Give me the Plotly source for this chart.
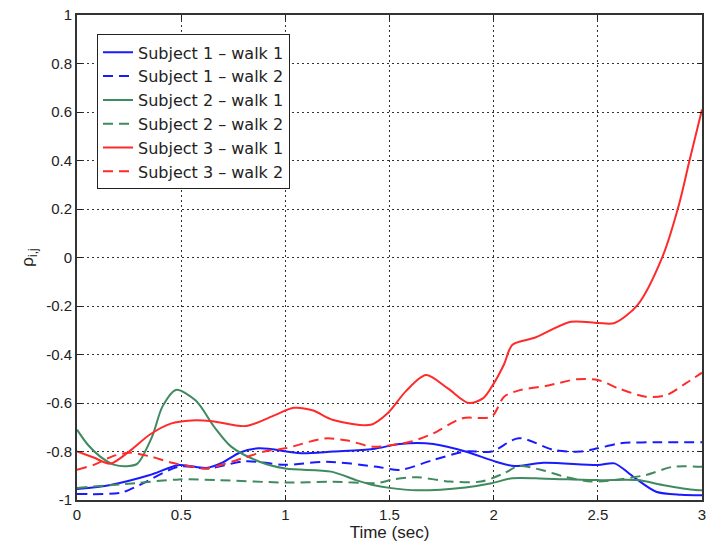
import plotly.graph_objects as go

# Correlation coefficient rho_{i,j} over time for three subjects, two walks each
t_s1w1 = [0, 0.16, 0.35, 0.49, 0.62, 0.70, 0.78, 0.87, 0.93, 1.075, 1.23, 1.42, 1.55, 1.71, 1.865, 2.01, 2.10, 2.24, 2.5, 2.58, 2.67, 2.78, 2.9, 3.0]
r_s1w1 = [-0.955, -0.938, -0.897, -0.856, -0.868, -0.845, -0.805, -0.787, -0.79, -0.807, -0.80, -0.79, -0.769, -0.769, -0.80, -0.842, -0.86, -0.846, -0.856, -0.849, -0.904, -0.966, -0.978, -0.98]

t_s1w2 = [0, 0.21, 0.30, 0.49, 0.63, 0.81, 1.0, 1.20, 1.44, 1.55, 1.71, 1.865, 1.99, 2.12, 2.29, 2.42, 2.5, 2.61, 2.8, 3.0]
r_s1w2 = [-0.975, -0.97, -0.938, -0.862, -0.87, -0.84, -0.855, -0.842, -0.863, -0.876, -0.835, -0.80, -0.80, -0.745, -0.794, -0.80, -0.787, -0.766, -0.762, -0.762]

t_s2w1 = [0, 0.05, 0.11, 0.18, 0.25, 0.29, 0.36, 0.41, 0.475, 0.57, 0.66, 0.74, 0.87, 1.0, 1.22, 1.34, 1.42, 1.5, 1.63, 1.865, 1.99, 2.09, 2.25, 2.5, 2.69, 2.81, 2.97, 3.0]
r_s2w1 = [-0.71, -0.77, -0.82, -0.855, -0.86, -0.85, -0.74, -0.615, -0.546, -0.59, -0.70, -0.78, -0.84, -0.87, -0.883, -0.918, -0.938, -0.95, -0.96, -0.948, -0.931, -0.91, -0.912, -0.918, -0.918, -0.938, -0.959, -0.96]

t_s2w2 = [0, 0.285, 0.49, 0.68, 1.0, 1.23, 1.44, 1.52, 1.63, 1.79, 1.94, 2.05, 2.12, 2.23, 2.34, 2.47, 2.58, 2.73, 2.86, 3.0]
r_s2w2 = [-0.95, -0.93, -0.915, -0.918, -0.928, -0.925, -0.93, -0.915, -0.906, -0.924, -0.924, -0.89, -0.86, -0.876, -0.904, -0.924, -0.918, -0.897, -0.863, -0.863]

t_s3w1 = [0, 0.08, 0.16, 0.25, 0.35, 0.45, 0.55, 0.65, 0.81, 0.95, 1.04, 1.13, 1.23, 1.41, 1.49, 1.58, 1.675, 1.78, 1.88, 1.95, 2.0, 2.05, 2.09, 2.2, 2.37, 2.5, 2.58, 2.69, 2.81, 2.89, 2.94, 3.0]
r_s3w1 = [-0.80, -0.825, -0.85, -0.80, -0.73, -0.685, -0.672, -0.675, -0.695, -0.65, -0.62, -0.63, -0.67, -0.69, -0.643, -0.55, -0.485, -0.54, -0.60, -0.58, -0.52, -0.44, -0.36, -0.33, -0.265, -0.27, -0.27, -0.196, 0.003, 0.22, 0.40, 0.61]

t_s3w2 = [0, 0.08, 0.17, 0.25, 0.35, 0.45, 0.55, 0.62, 0.75, 0.9, 1.0, 1.19, 1.3, 1.42, 1.6, 1.71, 1.85, 1.99, 2.05, 2.13, 2.25, 2.4, 2.5, 2.6, 2.73, 2.83, 2.92, 3.0]
r_s3w2 = [-0.875, -0.855, -0.82, -0.805, -0.82, -0.845, -0.862, -0.87, -0.84, -0.80, -0.787, -0.746, -0.755, -0.78, -0.76, -0.725, -0.663, -0.656, -0.574, -0.546, -0.53, -0.502, -0.505, -0.54, -0.574, -0.567, -0.52, -0.475]

series_names = ["Subject 1 \u2013 walk 1", "Subject 1 \u2013 walk 2",
                "Subject 2 \u2013 walk 1", "Subject 2 \u2013 walk 2",
                "Subject 3 \u2013 walk 1", "Subject 3 \u2013 walk 2"]

x_ticks = [0, 0.5, 1, 1.5, 2, 2.5, 3]
x_tick_text = ["0", "0.5", "1", "1.5", "2", "2.5", "3"]
y_ticks = [1, 0.8, 0.6, 0.4, 0.2, 0, -0.2, -0.4, -0.6, -0.8, -1]
y_tick_text = ["1", "0.8", "0.6", "0.4", "0.2", "0", "-0.2", "-0.4", "-0.6", "-0.8", "-1"]

BLUE = "#1a1aff"
GREEN = "#3f8a5e"
RED = "#ff2a2a"
DASH = "10px,6px"

data = [
    (t_s1w1, r_s1w1, BLUE, "solid"),
    (t_s1w2, r_s1w2, BLUE, DASH),
    (t_s2w1, r_s2w1, GREEN, "solid"),
    (t_s2w2, r_s2w2, GREEN, DASH),
    (t_s3w1, r_s3w1, RED, "solid"),
    (t_s3w2, r_s3w2, RED, DASH),
]

fig = go.Figure()
for name, (tt, rr, col, dash) in zip(series_names, data):
    fig.add_trace(go.Scatter(
        x=tt, y=rr, mode="lines", name=name,
        line=dict(color=col, width=2, dash=dash, shape="spline", smoothing=0.8),
    ))

FONT = "Arial, Liberation Sans, sans-serif"

fig.update_layout(
    width=706, height=542,
    margin=dict(l=77, r=0, t=15, b=42),
    paper_bgcolor="white", plot_bgcolor="white",
    font=dict(family=FONT, color="#222", size=14),
    showlegend=True,
    legend=dict(
        x=0.032, y=0.96, xanchor="left", yanchor="top",
        bgcolor="white", bordercolor="#222", borderwidth=1,
        font=dict(family="DejaVu Sans, sans-serif", size=16, color="#222"),
        tracegroupgap=0,
    ),
)

axis_style = dict(
    showline=True, linecolor="#333", linewidth=2, mirror="ticks",
    ticks="inside", ticklen=5, tickcolor="#222",
    showgrid=True, gridcolor="#333", gridwidth=1, griddash="2px,3px",
    zeroline=False, tickfont=dict(size=15), ticklabeloverflow="allow",
)

fig.update_xaxes(
    range=[0, 3], tickvals=x_ticks, ticktext=x_tick_text,
    title=dict(text="Time (sec)", font=dict(size=17), standoff=2),
    **axis_style,
)
fig.update_yaxes(
    range=[-1, 1], tickvals=y_ticks, ticktext=y_tick_text,
    title=dict(text="\u03c1<sub>i,j</sub>", font=dict(size=17), standoff=8),
    **axis_style,
)

fig.write_html("out.html")
